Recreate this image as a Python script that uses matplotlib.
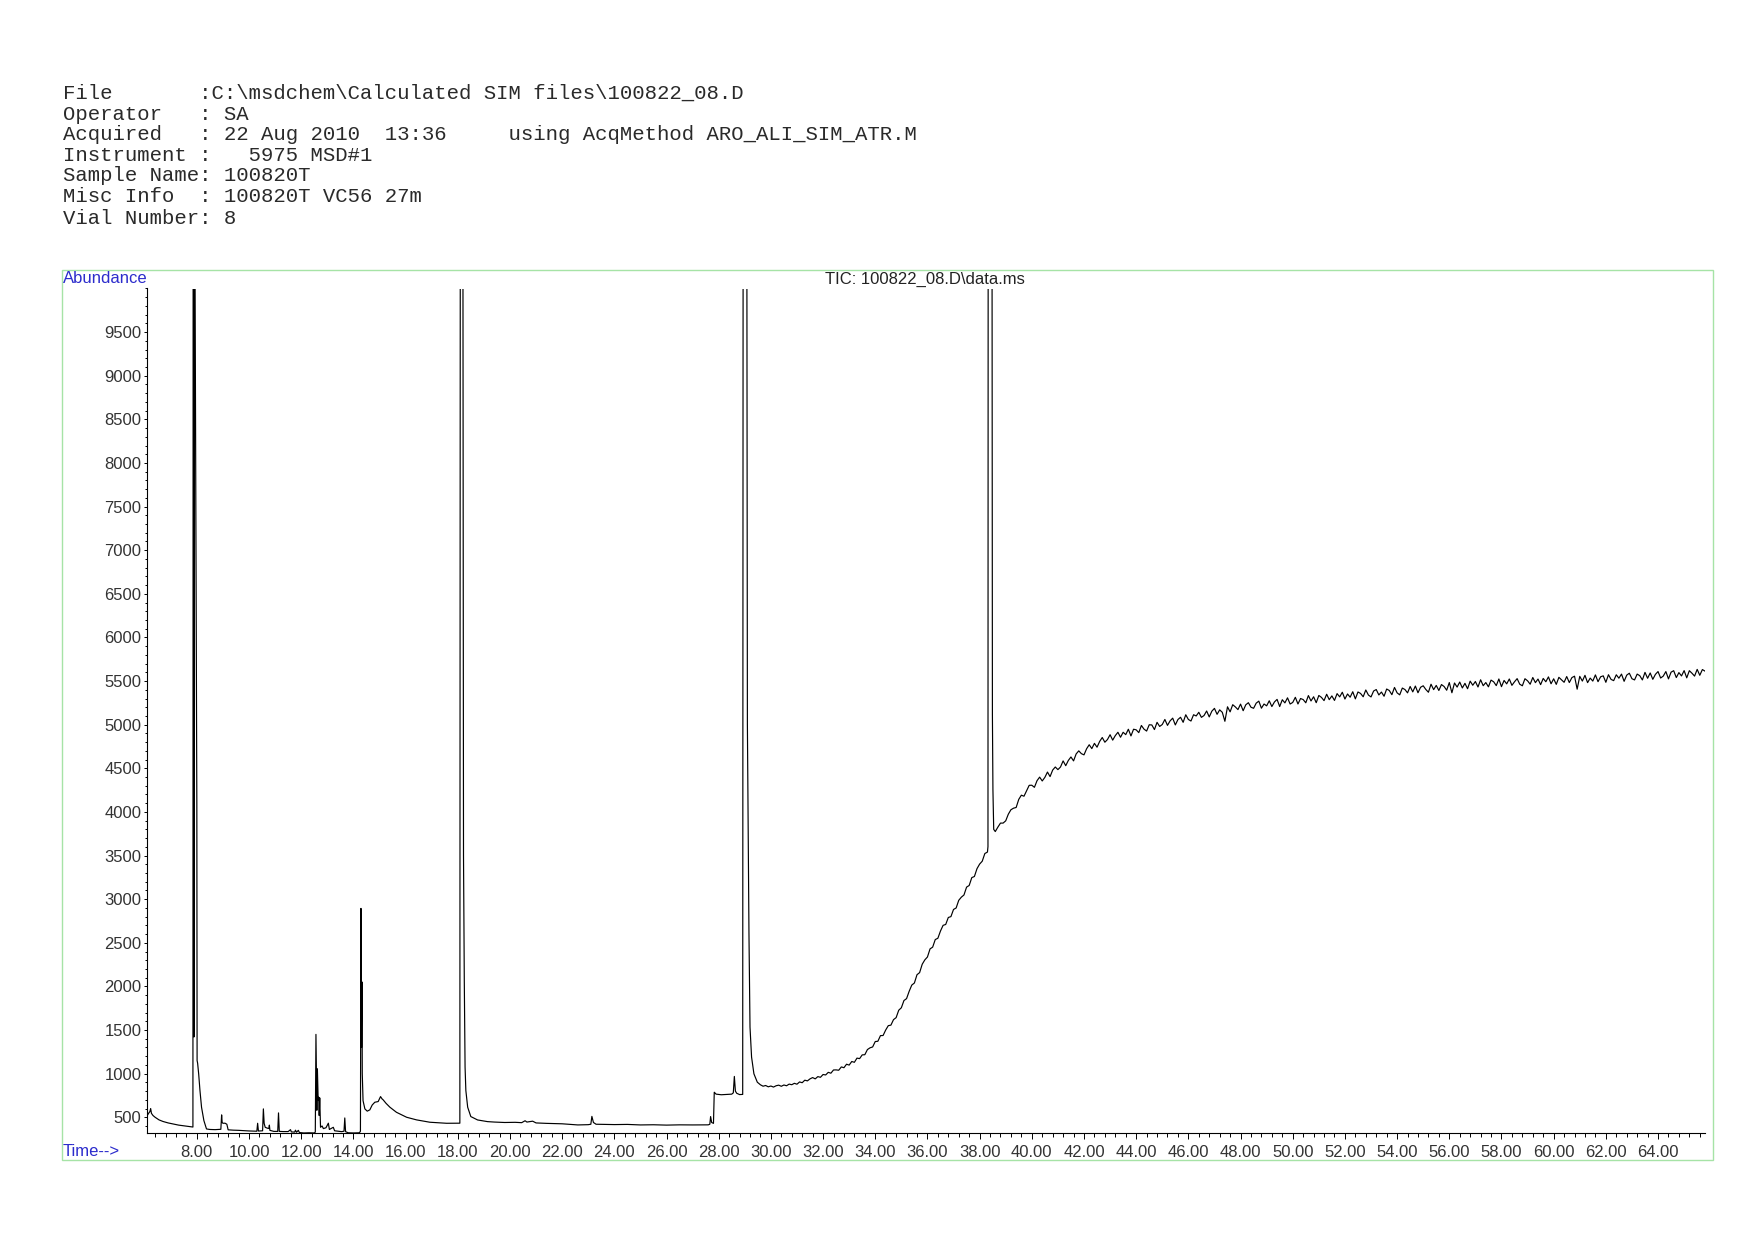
import numpy as np
import matplotlib
matplotlib.use("Agg")
import matplotlib.pyplot as plt
from matplotlib.ticker import MultipleLocator, FixedLocator, FuncFormatter
from matplotlib.patches import Rectangle

plt.rcParams['font.family'] = ['Liberation Sans', 'DejaVu Sans']

# ---------------- header text ----------------
header_lines = [
    r"File       :C:\msdchem\Calculated SIM files\100822_08.D",
    r"Operator   : SA",
    r"Acquired   : 22 Aug 2010  13:36     using AcqMethod ARO_ALI_SIM_ATR.M",
    r"Instrument :   5975 MSD#1",
    r"Sample Name: 100820T",
    r"Misc Info  : 100820T VC56 27m",
    r"Vial Number: 8",
]
title_text = r"TIC: 100822_08.D\data.ms"
y_label_text = "Abundance"
x_label_text = "Time-->"

# ---------------- data (time in min, abundance) ----------------
seg1_time = [6.10, 6.15, 6.20, 6.23, 6.26, 6.32, 6.40, 6.55, 6.70, 6.90, 7.10, 7.30, 7.50, 7.70, 7.85,
             7.86, 7.88, 7.89, 7.90, 8.00, 8.01, 8.03, 8.07, 8.12, 8.18, 8.27, 8.37, 8.50, 8.70, 8.92,
             8.95, 8.97, 9.00, 9.08, 9.15, 9.20, 9.40, 9.60, 9.80, 10.00, 10.30, 10.33, 10.36, 10.52,
             10.55, 10.58, 10.62, 10.70, 10.76, 10.78, 10.80, 10.95, 11.10, 11.13, 11.16, 11.30, 11.50,
             11.59, 11.62, 11.75, 11.78, 11.82, 11.89, 11.93, 12.10, 12.30, 12.50, 12.54, 12.565, 12.60,
             12.62, 12.65, 12.67, 12.69, 12.71, 12.74, 12.80, 12.85, 12.95, 13.04, 13.08, 13.15, 13.23,
             13.28, 13.40, 13.55, 13.64, 13.67, 13.70, 13.80, 14.00, 14.23, 14.27, 14.29, 14.31, 14.33,
             14.34, 14.37, 14.44, 14.53, 14.63, 14.72, 14.82, 14.95, 15.04, 15.10, 15.14, 15.25, 15.40,
             15.65, 16.04, 16.42, 16.93, 17.57, 18.08, 18.10, 18.19, 18.22, 18.25, 18.28, 18.31, 18.38,
             18.50, 18.76, 19.14, 19.40, 19.80, 20.20, 20.45, 20.58, 20.65, 20.87, 21.00, 21.40, 22.00,
             22.60, 23.00, 23.10, 23.14, 23.20, 23.30, 24.00, 24.50, 25.00, 25.50, 26.00, 26.50, 27.00,
             27.60, 27.66, 27.69, 27.73, 27.80, 27.83, 27.90, 28.10, 28.30, 28.50, 28.56, 28.60, 28.64,
             28.69, 28.80, 28.92, 28.94, 29.07, 29.10, 29.16, 29.20, 29.26, 29.35, 29.48]
seg1_abund = [520, 545, 565, 600, 545, 520, 500, 470, 452, 435, 422, 410, 402, 395, 388,
              13000, 13000, 1420, 13000, 4100, 1150, 1120, 998, 806, 615, 462, 366, 360, 358, 362,
              527, 440, 431, 432, 420, 356, 352, 350, 346, 343, 340, 431, 342, 345,
              596, 430, 385, 375, 372, 410, 350, 338, 338, 550, 338, 336, 336,
              358, 332, 330, 352, 328, 350, 325, 320, 322, 320, 330, 1450, 580,
              1055, 700, 730, 520, 722, 385, 400, 370, 380, 432, 360, 372, 385,
              345, 340, 335, 340, 492, 335, 322, 320, 322, 340, 2894, 1300, 2051,
              1000, 690, 596, 570, 585, 640, 672, 680, 737, 710, 700, 660, 615,
              557, 500, 470, 443, 431, 432, 13000, 13000, 3500, 2070, 1075, 806, 615,
              508, 469, 450, 445, 440, 442, 438, 460, 445, 455, 435, 430, 425,
              412, 415, 420, 510, 440, 420, 416, 418, 412, 414, 410, 413, 412,
              413, 420, 508, 440, 430, 787, 765, 758, 762, 765, 780, 968, 800,
              775, 760, 762, 13000, 13000, 5000, 2607, 1534, 1190, 998, 902]

scan_step = 0.1   # minutes between listed scans in the dense sections

rise_start = 29.6
rise_abund = [872, 856, 864, 849, 858, 846, 861, 868, 855, 870, 861, 880, 873, 889, 879,
              905, 896, 925, 917, 940, 955, 940, 966, 958, 990,
              985, 1015, 1005, 1042, 1043, 1039, 1077, 1068, 1108, 1098,
              1139, 1130, 1178, 1172, 1215, 1217, 1276, 1296, 1306, 1368,
              1371, 1436, 1437, 1500, 1550, 1556, 1619, 1642, 1727, 1755,
              1838, 1860, 1944, 2015, 2039, 2134, 2158, 2254, 2304, 2337,
              2430, 2450, 2537, 2552, 2635, 2700, 2710, 2790, 2800, 2882,
              2899, 2987, 3023, 3048, 3138, 3157, 3247, 3260, 3350, 3402,
              3435, 3523, 3540]

peak38_time = [38.32, 38.33, 38.47, 38.49, 38.51, 38.54]
peak38_abund = [3602, 13000, 13000, 5115, 4254, 3800]

drift_start = 38.6
drift_abund = [3775, 3826, 3872, 3872, 3898, 3974, 4025, 4043, 4051, 4144,
               4192, 4180, 4244, 4305, 4306, 4282, 4358, 4399, 4355, 4396,
               4457, 4405, 4480, 4515, 4485, 4515, 4585, 4530, 4590, 4630,
               4585, 4665, 4700, 4668, 4654, 4724, 4770, 4726, 4786, 4742,
               4808, 4853, 4799, 4830, 4885, 4823, 4875, 4913, 4856, 4913,
               4886, 4948, 4871, 4948, 4941, 4909, 4991, 4949, 4927, 4999,
               4997, 4944, 5027, 4980, 5002, 5060, 4992, 5044, 5075, 4997,
               5059, 5085, 5027, 5114, 5060, 5042, 5114, 5100, 5142, 5084,
               5105, 5157, 5089, 5155, 5187, 5119, 5170, 5142, 5039, 5205,
               5147, 5229, 5204, 5173, 5236, 5160, 5228, 5252, 5200, 5188,
               5247, 5270, 5189, 5237, 5216, 5274, 5208, 5261, 5290, 5208,
               5286, 5250, 5308, 5237, 5255, 5314, 5237, 5300, 5288, 5251,
               5334, 5272, 5320, 5252, 5335, 5313, 5276, 5349, 5287, 5330,
               5278, 5356, 5319, 5372, 5294, 5352, 5315, 5378, 5296, 5375,
               5358, 5320, 5398, 5340, 5318, 5386, 5403, 5341, 5374, 5326,
               5409, 5392, 5344, 5427, 5365, 5342, 5420, 5403, 5365, 5438,
               5376, 5443, 5366, 5429, 5446, 5404, 5372, 5464, 5402, 5450,
               5392, 5460, 5438, 5395, 5483, 5366, 5478, 5431, 5489, 5421,
               5474, 5412, 5499, 5452, 5495, 5432, 5515, 5447, 5483, 5434,
               5511, 5492, 5448, 5524, 5436, 5507, 5468, 5524, 5451, 5492,
               5528, 5464, 5446, 5527, 5503, 5464, 5541, 5482, 5523, 5459,
               5530, 5492, 5548, 5469, 5526, 5462, 5543, 5515, 5486, 5552,
               5483, 5540, 5556, 5407, 5554, 5500, 5566, 5482, 5534, 5500,
               5571, 5493, 5549, 5560, 5486, 5573, 5519, 5505, 5572, 5533,
               5580, 5497, 5568, 5590, 5527, 5513, 5580, 5562, 5513, 5600,
               5532, 5593, 5520, 5577, 5609, 5535, 5557, 5609, 5525, 5602,
               5619, 5540, 5597, 5559, 5620, 5537, 5619, 5590, 5557, 5634,
               5566, 5632, 5614]

y_major_ticks = list(range(500, 10000, 500))
x_major_ticks = list(range(8, 66, 2))

# ---------------- assemble ----------------
rise_time = rise_start + scan_step * np.arange(len(rise_abund))
drift_time = drift_start + scan_step * np.arange(len(drift_abund))
t_all = np.concatenate([seg1_time, rise_time, peak38_time, drift_time])
v_all = np.concatenate([seg1_abund, rise_abund, peak38_abund, drift_abund])

W, H = 1754, 1240
fig = plt.figure(figsize=(W / 100, H / 100), dpi=100)

# green frame
fig.patches.append(Rectangle((62 / W, 1 - 1160 / H), (1712.5 - 62) / W, (1160 - 269.5) / H,
                             transform=fig.transFigure, fill=False, edgecolor='#a6e3a6', lw=1.0))

ax_left, ax_right = 147 / W, 1705 / W
ax_top, ax_bot = 1 - 288.5 / H, 1 - 1132.7 / H
ax = fig.add_axes([ax_left, ax_bot, ax_right - ax_left, ax_top - ax_bot])
ax.plot(t_all, v_all, color='black', lw=0.85)
ax.set_xlim(6.09, 65.80)
ax.set_ylim(323, 10000)

for s in ['top', 'right']:
    ax.spines[s].set_visible(False)
for s in ['left', 'bottom']:
    ax.spines[s].set_color('black')
    ax.spines[s].set_linewidth(0.8)

ax.yaxis.set_major_locator(FixedLocator(y_major_ticks))
ax.yaxis.set_minor_locator(MultipleLocator(100))
ax.xaxis.set_major_locator(FixedLocator(x_major_ticks))
ax.xaxis.set_minor_locator(MultipleLocator(0.4))
ax.xaxis.set_major_formatter(FuncFormatter(lambda x, p: f"{x:.2f}"))
ax.yaxis.set_major_formatter(FuncFormatter(lambda y, p: f"{int(round(y))}"))

ax.tick_params(axis='y', which='major', direction='out', length=2.3, width=0.7, pad=1.8,
               labelsize=12, labelcolor='#333333', color='black')
ax.tick_params(axis='y', which='minor', direction='out', length=1.2, width=0.7, color='black')
ax.tick_params(axis='x', which='major', direction='out', length=4.6, width=0.7, pad=4.0,
               labelsize=12, labelcolor='#333333', color='black')
ax.tick_params(axis='x', which='minor', direction='out', length=3.0, width=0.7, color='black')

# header block
header_y = [92.8, 114.1, 134.2, 155.5, 175.6, 196.9, 218.1]
for line, yp in zip(header_lines, header_y):
    fig.text(63 / W, 1 - yp / H, line, family='Liberation Mono', fontsize=14.9,
             color='#2a2a2a', ha='left', va='center')

fig.text(925 / W, 1 - 279.6 / H, title_text, fontsize=12, color='#222222', ha='center', va='center')
fig.text(63 / W, 1 - 278.5 / H, y_label_text, fontsize=12, color='#2c2ccc', ha='left', va='center')
fig.text(63 / W, 1 - 1152 / H, x_label_text, fontsize=12, color='#2c2ccc', ha='left', va='center')

fig.savefig("out.png", dpi=100, facecolor='white')
